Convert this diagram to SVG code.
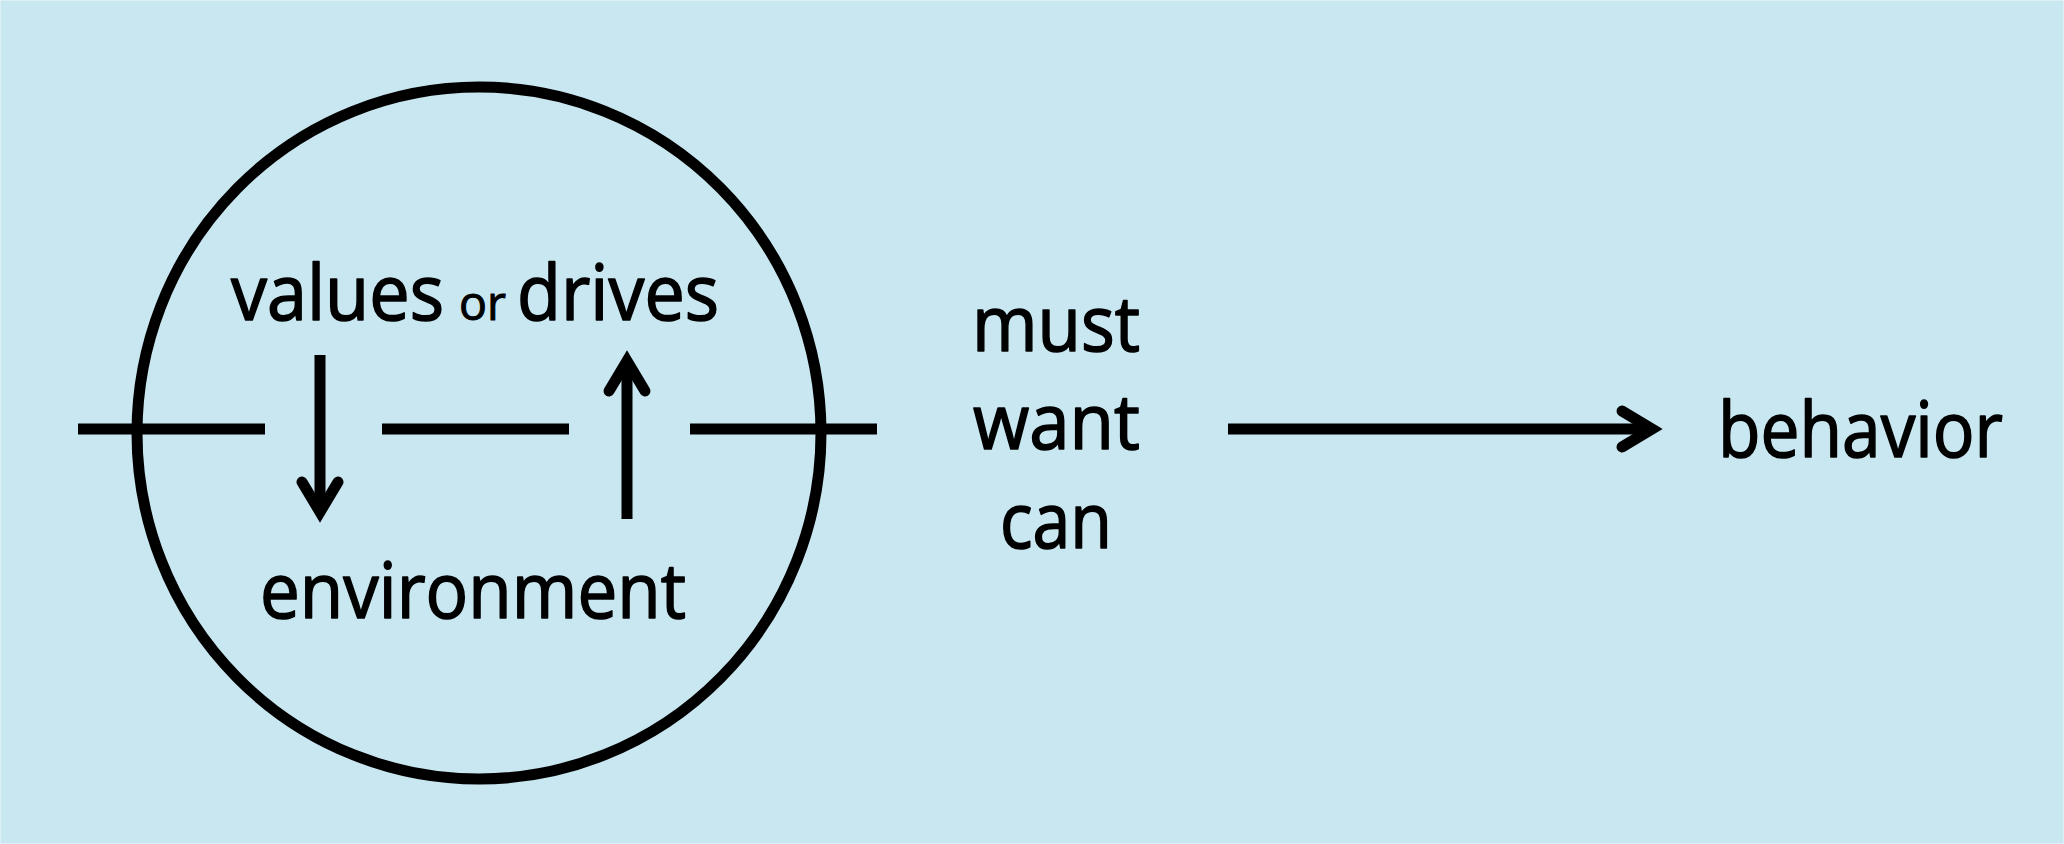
<svg xmlns="http://www.w3.org/2000/svg" width="2064" height="844" viewBox="0 0 2064 844">
  <style>
    .ln { stroke: #000; stroke-width: 11; fill: none; stroke-linecap: butt; }
    .t { font-family: "Open Sans", Lato, "Liberation Sans", sans-serif; font-size: 76px; fill: #000; stroke: #000; stroke-width: 1.6; stroke-linejoin: round; }
    .sm { font-size: 48px; stroke-width: 1; }
  </style>
  <defs>
    <marker id="head" markerUnits="userSpaceOnUse" orient="auto" refX="0" refY="0" markerWidth="80" markerHeight="80" overflow="visible">
      <path d="M-30,-18 L0,0 L-30,18" fill="none" stroke="#000" stroke-width="11" stroke-linejoin="miter" stroke-miterlimit="10" stroke-linecap="round"/>
    </marker>
  </defs>
  <rect x="0" y="0" width="2064" height="844" fill="#C8E7F1" stroke="#DDF0F6" stroke-width="2"/>

  <g id="circle">
    <ellipse cx="479" cy="433" rx="342" ry="346" class="ln"/>
  </g>

  <g id="connectors">
    <line x1="78" y1="429" x2="265" y2="429" class="ln"/>
    <line x1="382" y1="429" x2="569" y2="429" class="ln"/>
    <line x1="690" y1="429" x2="877" y2="429" class="ln"/>
    <line x1="320" y1="355" x2="320" y2="512" class="ln" marker-end="url(#head)"/>
    <line x1="627" y1="519" x2="627" y2="361" class="ln" marker-end="url(#head)"/>
    <line x1="1228" y1="429" x2="1652" y2="429" class="ln" marker-end="url(#head)"/>
  </g>

  <g id="values-or-drives">
    <text class="t" x="231" y="320" textLength="213" lengthAdjust="spacingAndGlyphs">values</text>
    <text class="t sm" x="459" y="320" textLength="47" lengthAdjust="spacingAndGlyphs">or</text>
    <text class="t" x="517" y="320" textLength="202" lengthAdjust="spacingAndGlyphs">drives</text>
  </g>

  <g id="environment">
    <text class="t" x="260" y="618" textLength="426" lengthAdjust="spacingAndGlyphs">environment</text>
  </g>

  <g id="modals">
    <text class="t" x="972" y="351" textLength="168" lengthAdjust="spacingAndGlyphs">must</text>
    <text class="t" x="973" y="449" textLength="167" lengthAdjust="spacingAndGlyphs">want</text>
    <text class="t" x="1000" y="548" textLength="112" lengthAdjust="spacingAndGlyphs">can</text>
  </g>

  <g id="behavior">
    <text class="t" x="1718" y="457" textLength="285" lengthAdjust="spacingAndGlyphs">behavior</text>
  </g>
</svg>
